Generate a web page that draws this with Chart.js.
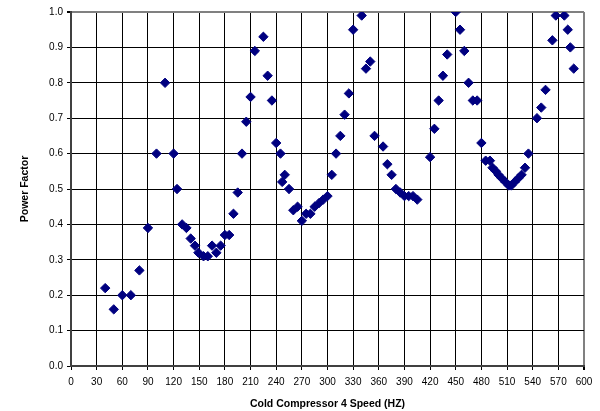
<!DOCTYPE html>
<html>
<head>
<meta charset="utf-8">
<script src="https://cdn.jsdelivr.net/npm/chart.js@4"></script>
<style>
  html, body { margin: 0; padding: 0; background: #fff; }
  #wrap { width: 600px; height: 411px; }
</style>
</head>
<body>
<div id="wrap"><canvas id="myChart" width="600" height="411"></canvas></div>
<script>
// cold compressor 4 speed (Hz) vs power factor
var speedHz = [40, 50, 60, 70, 80, 90, 100, 110, 120, 124,
    130, 135, 140, 145, 149, 155, 160, 165, 170, 175,
    180, 185, 190, 195, 200, 205, 210, 215, 225, 230,
    235, 240, 245, 247, 250, 255, 260, 265, 270, 275,
    280, 285, 290, 295, 300, 305, 310, 315, 320, 325,
    330, 340, 345, 350, 355, 365, 370, 375, 380, 385,
    390, 395, 400, 405, 420, 425, 430, 435, 440, 450,
    455, 460, 465, 470, 475, 480, 485, 490, 493, 497,
    500, 504, 508, 512, 515, 519, 523, 527, 531, 535,
    545, 550, 555, 563, 567, 577, 581, 584, 588];
var powerFactor = [0.22, 0.16, 0.20, 0.20, 0.27, 0.39, 0.60, 0.80, 0.60, 0.50,
    0.40, 0.39, 0.36, 0.34, 0.32, 0.31, 0.31, 0.34, 0.32, 0.34,
    0.37, 0.37, 0.43, 0.49, 0.60, 0.69, 0.76, 0.89, 0.93, 0.82,
    0.75, 0.63, 0.60, 0.52, 0.54, 0.50, 0.44, 0.45, 0.41, 0.43,
    0.43, 0.45, 0.46, 0.47, 0.48, 0.54, 0.60, 0.65, 0.71, 0.77,
    0.95, 0.99, 0.84, 0.86, 0.65, 0.62, 0.57, 0.54, 0.50, 0.49,
    0.48, 0.48, 0.48, 0.47, 0.59, 0.67, 0.75, 0.82, 0.88, 1.00,
    0.95, 0.89, 0.80, 0.75, 0.75, 0.63, 0.58, 0.58, 0.56, 0.55,
    0.54, 0.53, 0.52, 0.51, 0.51, 0.52, 0.53, 0.54, 0.56, 0.60,
    0.70, 0.73, 0.78, 0.92, 0.99, 0.99, 0.95, 0.90, 0.84];

var points = [];
for (let i = 0; i < speedHz.length; i++) {
    points.push({x: speedHz[i], y: powerFactor[i]});
}

var tickFont = {family: "Liberation Sans, Arial, sans-serif", size: 10};
var titleFont = {family: "Liberation Sans, Arial, sans-serif", size: 10.5, weight: "bold"};

new Chart("myChart", {
type: "scatter",
data: {
    datasets: [{
    data: points,
    pointStyle: "rectRot",
    pointRadius: 4.7,
    pointHoverRadius: 4.7,
    backgroundColor: "#000080",
    borderColor: "#000080",
    borderWidth: 1
    }]
},
options: {
    responsive: false,
    animation: false,
    layout: {padding: {left: 0, right: 16, top: 12, bottom: 0}},
    scales: {
        x: {
            type: "linear",
            min: 0,
            max: 600,
            afterFit: function(scale) { scale.height = 45; },
            ticks: {stepSize: 30, color: "#000", font: tickFont, padding: 6, maxRotation: 0, autoSkip: false},
            grid: {
                color: function(c) { return c.tick && c.tick.value === 600 ? "#808080" : "#000"; },
                lineWidth: function(c) { return c.tick && c.tick.value === 600 ? 2 : 1; },
                tickLength: 4,
                tickColor: "#000"
            },
            border: {color: "#404040", width: 2},
            title: {display: true, text: "Cold Compressor 4 Speed (HZ)", color: "#000", font: titleFont, padding: {top: 0, bottom: 1}}
        },
        y: {
            min: 0,
            max: 1,
            afterFit: function(scale) { scale.width = 71; },
            ticks: {stepSize: 0.1, color: "#000", font: tickFont, padding: 4,
                callback: function(v) { return v.toFixed(1); }},
            grid: {
                color: function(c) { return c.tick && Math.abs(c.tick.value - 1) < 1e-6 ? "#808080" : "#000"; },
                lineWidth: function(c) { return c.tick && Math.abs(c.tick.value - 1) < 1e-6 ? 2 : 1; },
                tickLength: 4,
                tickColor: "#000"
            },
            border: {color: "#404040", width: 2},
            title: {display: true, text: "Power Factor", color: "#000", font: titleFont, padding: {top: 19, bottom: 0}}
        }
    },
    plugins: {
        legend: {display: false},
        tooltip: {enabled: false}
    }
}
});
</script>
</body>
</html>
